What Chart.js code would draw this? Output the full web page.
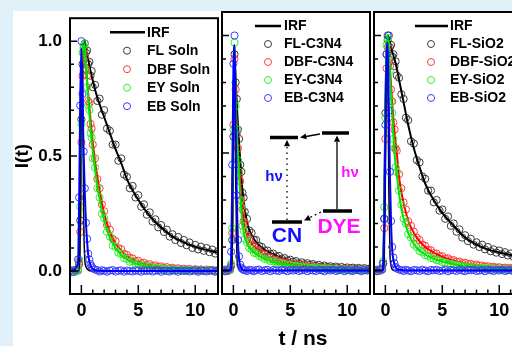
<!DOCTYPE html>
<html>
<head>
<meta charset="utf-8">
<script src="https://cdn.jsdelivr.net/npm/chart.js@4.4.1/dist/chart.umd.min.js"></script>
<style>
  html, body { margin: 0; padding: 0; width: 512px; height: 346px; overflow: hidden; background: #e1f1f9; }
  #sheet { position: absolute; left: 13px; top: 11px; width: 499px; height: 335px; background: #fff; }
  canvas { position: absolute; top: 0; }
</style>
</head>
<body>
<div id="sheet"></div>
<canvas id="c1" width="210" height="346" style="left:13px"></canvas>
<canvas id="c2" width="158" height="346" style="left:217px"></canvas>
<canvas id="c3" width="158" height="346" style="left:369px"></canvas>
<script>
// time axis (ns) of the measured points and of the fitted curves
const tData = [-1, -0.75, -0.5, -0.3, -0.2, -0.1, 0, 0.1, 0.2, 0.3, 0.4, 0.5, 0.6, 0.7, 0.8, 0.9, 1.0,
  1.2, 1.4, 1.6, 1.8, 2.0,
  2.25, 2.5, 2.75, 3.0, 3.25, 3.5, 3.75, 4.0,
  4.25, 4.5, 4.75, 5.0, 5.25, 5.5, 5.75, 6.0,
  6.25, 6.5, 6.75, 7.0, 7.25, 7.5, 7.75, 8.0,
  8.25, 8.5, 8.75, 9.0, 9.25, 9.5, 9.75, 10.0,
  10.25, 10.5, 10.75, 11.0, 11.25, 11.5, 11.75, 12.0];
const tFit = [-1, -0.3, -0.2, -0.1, 0, 0.1, 0.2, 0.3, 0.4, 0.5, 0.6, 0.8, 1.0, 1.25, 1.5, 2, 2.5, 3, 3.5, 4, 5, 6, 7, 8, 9, 10, 11, 12];

const xTicks = [0, 5, 10];
const yTicks = [0, 0.5, 1.0];

const solnLabels = ['IRF', 'FL Soln', 'DBF Soln', 'EY Soln', 'EB Soln'];
const c3n4Labels = ['IRF', 'FL-C3N4', 'DBF-C3N4', 'EY-C3N4', 'EB-C3N4'];
const sio2Labels = ['IRF', 'FL-SiO2', 'DBF-SiO2', 'EY-SiO2', 'EB-SiO2'];

// ---- solution ----
const flSoln = [0.004, -0.003, 0.005, 0.002, 0.03, 0.22, 0.66, 0.9, 0.97, 0.99, 0.95, 0.96, 0.9, 0.91, 0.85, 0.87, 0.8,
  0.81, 0.74, 0.75, 0.68, 0.7,
  0.62, 0.61, 0.55, 0.55, 0.48, 0.49, 0.42, 0.41,
  0.36, 0.37, 0.32, 0.33, 0.28, 0.29, 0.245, 0.255,
  0.215, 0.225, 0.19, 0.2, 0.17, 0.18, 0.15, 0.16,
  0.135, 0.148, 0.122, 0.135, 0.112, 0.124, 0.1, 0.114,
  0.094, 0.106, 0.088, 0.1, 0.082, 0.093, 0.076, 0.086];
const dbfSoln = [0.003, -0.004, 0.002, 0.006, 0.04, 0.17, 0.56, 0.85, 0.95, 0.93, 0.88, 0.85, 0.74, 0.73, 0.64, 0.62, 0.55,
  0.49, 0.4, 0.36, 0.29, 0.26,
  0.2, 0.18, 0.14, 0.13, 0.1, 0.095, 0.075, 0.07,
  0.058, 0.055, 0.042, 0.045, 0.034, 0.036, 0.027, 0.03,
  0.022, 0.025, 0.018, 0.02, 0.014, 0.017, 0.011, 0.014,
  0.009, 0.012, 0.007, 0.01, 0.006, 0.009, 0.004, 0.008,
  0.004, 0.007, 0.003, 0.006, 0.002, 0.005, 0.002, 0.004];
const eySoln = [0.002, 0.005, -0.003, 0.004, 0.05, 0.28, 0.64, 0.95, 0.98, 0.99, 0.87, 0.8, 0.72, 0.7, 0.6, 0.58, 0.49,
  0.45, 0.36, 0.32, 0.25, 0.23,
  0.17, 0.15, 0.11, 0.105, 0.08, 0.074, 0.056, 0.053,
  0.04, 0.042, 0.03, 0.031, 0.022, 0.025, 0.017, 0.019,
  0.012, 0.015, 0.009, 0.012, 0.007, 0.01, 0.005, 0.008,
  0.004, 0.007, 0.003, 0.006, 0.002, 0.005, 0.002, 0.004,
  0.001, 0.004, 0.001, 0.003, 0.001, 0.003, 0.0, 0.002];
const ebSoln = [0.002, -0.004, 0.005, 0.05, 0.32, 0.72, 1.0, 0.77, 0.52, 0.36, 0.21, 0.14, 0.075, 0.05, 0.03, 0.02, 0.012,
  0.006, 0.004, -0.002, 0.003, 0.001,
  -0.003, 0.002, 0.004, -0.002, 0.001, 0.003, -0.003, 0.002,
  0.0, -0.002, 0.003, 0.001, -0.003, 0.002, 0.0, 0.003,
  -0.002, 0.001, 0.003, -0.003, 0.002, 0.0, -0.002, 0.003,
  0.001, -0.003, 0.002, 0.0, 0.003, -0.002, 0.001, 0.003,
  -0.003, 0.002, 0.0, -0.002, 0.003, 0.001, -0.003, 0.002];
const irfSoln = [0, 0, 0, 0.2, 0.85, 0.9, 0.25, 0.05, 0.02, 0.01, 0.005, 0, 0, 0, 0, 0, 0, 0, 0, 0, 0, 0, 0, 0, 0, 0, 0, 0];
const flSolnFit = [0, 0, 0.02, 0.25, 0.7, 0.93, 0.99, 1.0, 0.97, 0.94, 0.92, 0.87, 0.83, 0.78, 0.74, 0.67, 0.6, 0.53, 0.47, 0.4, 0.31, 0.24, 0.19, 0.15, 0.125, 0.105, 0.092, 0.08];
const dbfSolnFit = [0, 0, 0.02, 0.2, 0.6, 0.88, 0.97, 0.96, 0.9, 0.83, 0.77, 0.66, 0.56, 0.46, 0.38, 0.25, 0.17, 0.12, 0.09, 0.066, 0.04, 0.026, 0.017, 0.012, 0.008, 0.006, 0.004, 0.003];
const eySolnFit = [0, 0, 0.03, 0.25, 0.68, 0.93, 1.0, 0.97, 0.9, 0.82, 0.75, 0.62, 0.52, 0.42, 0.34, 0.22, 0.145, 0.1, 0.07, 0.05, 0.028, 0.017, 0.011, 0.007, 0.005, 0.004, 0.003, 0.002];
const ebSolnFit = [0, 0.03, 0.3, 0.75, 0.97, 0.76, 0.51, 0.34, 0.21, 0.13, 0.07, 0.025, 0.01, 0.004, 0.002, 0, 0, 0, 0, 0, 0, 0, 0, 0, 0, 0, 0, 0];

// ---- on C3N4 ----
const flC3n4 = [0.003, -0.003, 0.004, 0.002, 0.02, 0.13, 0.57, 0.92, 0.8, 0.73, 0.6, 0.56, 0.45, 0.42, 0.33, 0.31, 0.25,
  0.22, 0.17, 0.16, 0.13, 0.13,
  0.105, 0.1, 0.085, 0.085, 0.07, 0.072, 0.06, 0.062,
  0.05, 0.053, 0.043, 0.046, 0.037, 0.04, 0.031, 0.035,
  0.027, 0.031, 0.024, 0.027, 0.02, 0.024, 0.017, 0.021,
  0.015, 0.018, 0.013, 0.017, 0.011, 0.015, 0.01, 0.013,
  0.009, 0.012, 0.008, 0.011, 0.007, 0.01, 0.006, 0.009];
const dbfC3n4 = [0.002, 0.004, -0.003, 0.003, 0.02, 0.16, 0.62, 0.9, 0.77, 0.58, 0.52, 0.41, 0.38, 0.3, 0.26, 0.21, 0.2,
  0.15, 0.135, 0.11, 0.105, 0.088,
  0.085, 0.07, 0.068, 0.057, 0.056, 0.047, 0.046, 0.039,
  0.038, 0.033, 0.032, 0.028, 0.027, 0.023, 0.023, 0.019,
  0.02, 0.016, 0.017, 0.013, 0.014, 0.011, 0.012, 0.009,
  0.01, 0.007, 0.009, 0.006, 0.008, 0.005, 0.007, 0.004,
  0.006, 0.004, 0.005, 0.003, 0.005, 0.002, 0.004, 0.002];
const eyC3n4 = [0.003, -0.002, 0.004, 0.002, 0.03, 0.18, 0.6, 0.97, 0.7, 0.6, 0.47, 0.42, 0.3, 0.27, 0.19, 0.17, 0.135,
  0.12, 0.095, 0.09, 0.075, 0.073,
  0.062, 0.058, 0.049, 0.047, 0.04, 0.039, 0.033, 0.032,
  0.028, 0.027, 0.023, 0.024, 0.019, 0.02, 0.016, 0.017,
  0.014, 0.014, 0.011, 0.012, 0.009, 0.01, 0.008, 0.009,
  0.006, 0.007, 0.005, 0.006, 0.004, 0.005, 0.003, 0.004,
  0.003, 0.004, 0.002, 0.003, 0.001, 0.003, 0.001, 0.002];
const ebC3n4 = [0.003, -0.003, 0.002, 0.01, 0.08, 0.45, 0.88, 1.0, 0.58, 0.32, 0.13, 0.06, 0.025, 0.012, 0.006, 0.003, 0.001,
  -0.002, 0.003, 0.001, -0.003, 0.002,
  0.004, -0.002, 0.001, 0.003, -0.003, 0.002, 0.0, -0.002,
  0.003, 0.001, -0.003, 0.002, 0.0, 0.003, -0.002, 0.001,
  0.003, -0.003, 0.002, 0.0, -0.002, 0.003, 0.001, -0.003,
  0.002, 0.0, 0.003, -0.002, 0.001, 0.003, -0.003, 0.002,
  0.0, -0.002, 0.003, 0.001, -0.003, 0.002, 0.0, 0.003];
const irfC3n4 = [0, 0, 0, 0.1, 0.7, 0.95, 0.4, 0.08, 0.02, 0.005, 0, 0, 0, 0, 0, 0, 0, 0, 0, 0, 0, 0, 0, 0, 0, 0, 0, 0];
const flC3n4Fit = [0, 0, 0.01, 0.15, 0.6, 0.9, 0.82, 0.71, 0.62, 0.54, 0.47, 0.34, 0.26, 0.195, 0.16, 0.12, 0.097, 0.08, 0.068, 0.058, 0.042, 0.032, 0.025, 0.019, 0.015, 0.012, 0.01, 0.008];
const dbfC3n4Fit = [0, 0, 0.01, 0.15, 0.6, 0.93, 0.75, 0.6, 0.5, 0.43, 0.37, 0.25, 0.19, 0.143, 0.12, 0.092, 0.073, 0.06, 0.05, 0.041, 0.03, 0.021, 0.015, 0.011, 0.008, 0.006, 0.005, 0.004];
const eyC3n4Fit = [0, 0, 0.01, 0.15, 0.62, 0.96, 0.72, 0.58, 0.49, 0.4, 0.32, 0.2, 0.142, 0.11, 0.09, 0.07, 0.056, 0.045, 0.037, 0.031, 0.023, 0.017, 0.013, 0.01, 0.007, 0.005, 0.004, 0.003];
const ebC3n4Fit = [0, 0, 0.05, 0.4, 0.85, 0.96, 0.6, 0.3, 0.12, 0.05, 0.02, 0.005, 0, 0, 0, 0, 0, 0, 0, 0, 0, 0, 0, 0, 0, 0, 0, 0];

// ---- on SiO2 ----
const flSio2 = [0.003, -0.002, 0.004, 0.003, 0.03, 0.22, 0.67, 0.92, 0.98, 1.0, 0.95, 0.96, 0.91, 0.92, 0.87, 0.89, 0.83,
  0.82, 0.75, 0.73, 0.65, 0.64,
  0.55, 0.54, 0.47, 0.46, 0.4, 0.39, 0.34, 0.34,
  0.29, 0.3, 0.255, 0.26, 0.22, 0.23, 0.19, 0.2,
  0.165, 0.175, 0.14, 0.15, 0.125, 0.135, 0.11, 0.12,
  0.1, 0.11, 0.09, 0.1, 0.082, 0.09, 0.076, 0.085,
  0.07, 0.078, 0.064, 0.072, 0.058, 0.066, 0.054, 0.06];
const dbfSio2 = [0.002, 0.004, -0.002, 0.004, 0.03, 0.18, 0.56, 0.86, 0.95, 0.9, 0.87, 0.77, 0.72, 0.63, 0.6, 0.52, 0.51,
  0.41, 0.35, 0.29, 0.26, 0.21,
  0.19, 0.165, 0.14, 0.13, 0.11, 0.105, 0.088, 0.086,
  0.073, 0.072, 0.06, 0.061, 0.051, 0.052, 0.044, 0.044,
  0.037, 0.038, 0.031, 0.033, 0.027, 0.028, 0.023, 0.025,
  0.02, 0.021, 0.017, 0.018, 0.014, 0.016, 0.012, 0.014,
  0.011, 0.012, 0.009, 0.011, 0.008, 0.009, 0.007, 0.008];
const eySio2 = [0.003, -0.003, 0.002, 0.004, 0.04, 0.27, 0.65, 0.96, 0.99, 0.91, 0.85, 0.72, 0.67, 0.56, 0.52, 0.44, 0.42,
  0.34, 0.28, 0.22, 0.2, 0.155,
  0.14, 0.11, 0.1, 0.083, 0.077, 0.066, 0.062, 0.053,
  0.05, 0.044, 0.042, 0.036, 0.034, 0.03, 0.029, 0.025,
  0.024, 0.021, 0.02, 0.017, 0.017, 0.014, 0.014, 0.011,
  0.012, 0.009, 0.01, 0.008, 0.008, 0.006, 0.007, 0.005,
  0.006, 0.004, 0.005, 0.003, 0.005, 0.003, 0.004, 0.002];
const ebSio2 = [0.002, -0.003, 0.004, 0.005, 0.03, 0.22, 0.62, 0.92, 1.0, 0.68, 0.42, 0.21, 0.1, 0.055, 0.03, 0.015, 0.009,
  0.004, 0.002, -0.002, 0.003, 0.0,
  -0.003, 0.002, 0.001, -0.002, 0.003, 0.0, -0.003, 0.002,
  0.001, 0.003, -0.002, 0.0, 0.003, -0.003, 0.002, 0.001,
  -0.002, 0.003, 0.0, -0.003, 0.002, 0.001, 0.003, -0.002,
  0.0, 0.002, -0.003, 0.003, 0.001, -0.002, 0.002, 0.0,
  0.003, -0.002, 0.001, 0.002, -0.003, 0.003, 0.0, -0.002];
const irfSio2 = [0, 0, 0, 0.05, 0.4, 0.9, 0.9, 0.35, 0.08, 0.02, 0.005, 0, 0, 0, 0, 0, 0, 0, 0, 0, 0, 0, 0, 0, 0, 0, 0, 0];
const flSio2Fit = [0, 0, 0.02, 0.25, 0.7, 0.93, 1.0, 0.99, 0.97, 0.95, 0.93, 0.9, 0.86, 0.8, 0.74, 0.62, 0.52, 0.44, 0.37, 0.32, 0.245, 0.19, 0.14, 0.11, 0.09, 0.077, 0.066, 0.057];
const dbfSio2Fit = [0, 0, 0.02, 0.2, 0.6, 0.88, 0.96, 0.92, 0.86, 0.79, 0.71, 0.59, 0.5, 0.38, 0.31, 0.213, 0.16, 0.125, 0.1, 0.083, 0.058, 0.042, 0.031, 0.023, 0.017, 0.013, 0.01, 0.008];
const eySio2Fit = [0, 0, 0.03, 0.25, 0.68, 0.94, 1.0, 0.93, 0.84, 0.74, 0.66, 0.5, 0.41, 0.31, 0.24, 0.16, 0.113, 0.085, 0.068, 0.055, 0.038, 0.027, 0.019, 0.013, 0.009, 0.007, 0.005, 0.004];
const ebSio2Fit = [0, 0, 0.02, 0.2, 0.6, 0.9, 0.97, 0.7, 0.4, 0.2, 0.09, 0.025, 0.008, 0.003, 0.001, 0, 0, 0, 0, 0, 0, 0, 0, 0, 0, 0, 0, 0];

const FONT = 'Arial, "Liberation Sans", Helvetica, sans-serif';
const dotColors = ['#3a3a3a', '#ff3b3b', '#2cef2c', '#3b3bff'];
const lineColors = ['#000000', '#ff0000', '#00e600', '#0000ff'];

Chart.defaults.font.family = FONT;

function pts(xs, ys) {
  return xs.map((x, i) => ({ x: x, y: ys[i] }));
}

// box around the plot plus inward tick marks
const framePlugin = {
  id: 'frame',
  afterDatasetsDraw(chart) {
    const { ctx, chartArea: a, scales: { x, y } } = chart;
    ctx.save();
    ctx.strokeStyle = '#000';
    ctx.lineWidth = 1.5;
    ctx.beginPath();
    for (let t = 0; t <= 11; t++) {
      const px = x.getPixelForValue(t);
      ctx.moveTo(px, a.bottom);
      ctx.lineTo(px, a.bottom - (t % 5 === 0 ? 9 : 4.5));
    }
    for (let k = 0; k <= 10; k++) {
      const py = y.getPixelForValue(k / 10);
      ctx.moveTo(a.left, py);
      ctx.lineTo(a.left + (k % 5 === 0 ? 7 : 4), py);
    }
    ctx.stroke();
    ctx.lineWidth = 2;
    ctx.strokeRect(a.left, a.top, a.right - a.left, a.bottom - a.top);
    ctx.restore();
  }
};

const legendPlugin = {
  id: 'panelLegend',
  afterDraw(chart, args, o) {
    const { ctx, chartArea: a } = chart;
    ctx.save();
    ctx.font = 'bold 14px ' + FONT;
    ctx.textBaseline = 'middle';
    o.labels.forEach((lab, i) => {
      const yy = a.top + o.top + i * o.gap;
      if (i === 0) {
        ctx.strokeStyle = '#000';
        ctx.lineWidth = 2.5;
        ctx.beginPath();
        ctx.moveTo(a.left + o.lineFrom, yy);
        ctx.lineTo(a.left + o.lineTo, yy);
        ctx.stroke();
      } else {
        ctx.strokeStyle = dotColors[i - 1];
        ctx.lineWidth = 1;
        ctx.beginPath();
        ctx.arc(a.left + o.dot, yy, 3.5, 0, Math.PI * 2);
        ctx.stroke();
      }
      ctx.fillStyle = '#000';
      ctx.fillText(lab, a.left + o.text, yy + 0.5);
    });
    ctx.restore();
  }
};

function arrowHead(ctx, x, y, ang, size) {
  ctx.beginPath();
  ctx.moveTo(x, y);
  ctx.lineTo(x - size * Math.cos(ang - 0.45), y - size * Math.sin(ang - 0.45));
  ctx.lineTo(x - size * Math.cos(ang + 0.45), y - size * Math.sin(ang + 0.45));
  ctx.closePath();
  ctx.fill();
}

// energy level sketch in the middle panel
const insetPlugin = {
  id: 'inset',
  afterDraw(chart) {
    const { ctx, chartArea: a } = chart;
    const L = a.left, T = a.top;
    const seg = (x1, y1, x2, y2) => { ctx.beginPath(); ctx.moveTo(L + x1, T + y1); ctx.lineTo(L + x2, T + y2); ctx.stroke(); };
    ctx.save();
    ctx.strokeStyle = '#000';
    ctx.fillStyle = '#000';
    ctx.lineWidth = 3.5;
    seg(48, 125.5, 76, 125.5);
    seg(100, 121, 127, 121);
    seg(101, 199, 130, 199);
    seg(50, 210, 80, 210);
    ctx.lineWidth = 1.3;
    seg(115, 197, 115, 130);
    arrowHead(ctx, L + 115, T + 123.5, -Math.PI / 2, 7);
    ctx.setLineDash([1.5, 4]);
    seg(65, 208, 65, 134);
    ctx.setLineDash([]);
    arrowHead(ctx, L + 65, T + 128, -Math.PI / 2, 7);
    seg(98, 122, 84, 124.5);
    arrowHead(ctx, L + 78, T + 125.5, Math.PI - 0.18, 7);
    ctx.setLineDash([2, 3]);
    seg(99, 200, 88, 205.5);
    ctx.setLineDash([]);
    arrowHead(ctx, L + 82, T + 208.5, Math.PI - 0.45, 7);
    ctx.textAlign = 'center';
    ctx.textBaseline = 'middle';
    ctx.font = 'bold 15px ' + FONT;
    ctx.fillStyle = '#1010ff';
    ctx.fillText('h\u03bd', L + 52, T + 165);
    ctx.fillStyle = '#ff10ff';
    ctx.fillText('h\u03bd', L + 128, T + 161);
    ctx.font = 'bold 21px ' + FONT;
    ctx.fillStyle = '#1010ff';
    ctx.fillText('CN', L + 65, T + 224);
    ctx.fillStyle = '#ff10ff';
    ctx.fillText('DYE', L + 117, T + 215);
    ctx.restore();
  }
};

const xTitlePlugin = {
  id: 'xTitle',
  afterDraw(chart, args, o) {
    const { ctx, chartArea: a } = chart;
    ctx.save();
    ctx.font = 'bold 21px ' + FONT;
    ctx.fillStyle = '#000';
    ctx.textAlign = 'center';
    ctx.textBaseline = 'alphabetic';
    ctx.fillText(o.text, (a.left + a.right) / 2 + 7, chart.height - 1.5);
    ctx.restore();
  }
};

function makePanel(id, p) {
  const datasets = [];
  p.series.forEach((vals, i) => {
    datasets.push({
      label: p.labels[i + 1],
      data: pts(tData, vals),
      showLine: false,
      pointStyle: 'circle',
      pointRadius: 3.6,
      pointBorderWidth: 1,
      pointBorderColor: dotColors[i],
      pointBackgroundColor: 'rgba(0,0,0,0)',
      order: 20 - i * 4
    });
    datasets.push({
      label: p.labels[i + 1] + ' fit',
      data: pts(tFit, p.fits[i]),
      showLine: true,
      borderColor: lineColors[i],
      borderWidth: 2,
      pointRadius: 0,
      cubicInterpolationMode: 'monotone',
      order: 19 - i * 4
    });
  });
  datasets.push({
    label: p.labels[0],
    data: pts(tFit, p.irf),
    showLine: true,
    borderColor: '#000',
    borderWidth: 1.5,
    pointRadius: 0,
    cubicInterpolationMode: 'monotone',
    order: 9
  });

  return new Chart(document.getElementById(id), {
    type: 'scatter',
    data: { datasets: datasets },
    options: {
      responsive: false,
      animation: false,
      devicePixelRatio: 1,
      layout: { padding: p.padding },
      plugins: {
        legend: { display: false },
        tooltip: { enabled: false },
        panelLegend: p.legend,
        inset: p.inset,
        xTitle: p.xTitle
      },
      scales: {
        x: {
          type: 'linear',
          min: -1,
          max: 12,
          grid: { display: false, drawTicks: false },
          border: { display: false },
          afterBuildTicks: s => { s.ticks = xTicks.map(v => ({ value: v })); },
          afterFit: s => { s.height = 52; },
          ticks: {
            padding: 6,
            color: '#000',
            maxRotation: 0,
            autoSkip: false,
            font: { size: 18, weight: 'bold' },
            callback: v => String(v)
          }
        },
        y: {
          type: 'linear',
          min: -0.1,
          max: 1.1,
          display: p.showY,
          grid: { display: false, drawTicks: false },
          border: { display: false },
          afterBuildTicks: s => { s.ticks = yTicks.map(v => ({ value: v })); },
          afterFit: s => { s.width = p.showY ? 57 : 0; },
          ticks: {
            padding: 8,
            color: '#000',
            font: { size: 17, weight: 'bold' },
            callback: v => v.toFixed(1)
          },
          title: {
            display: true,
            text: 'I(t)',
            color: '#000',
            font: { size: 19, weight: 'bold', lineHeight: 1 },
            padding: { top: 0, bottom: 0 }
          }
        }
      }
    },
    plugins: [framePlugin, legendPlugin, insetPlugin, xTitlePlugin]
  });
}

makePanel('c1', {
  labels: solnLabels,
  series: [flSoln, dbfSoln, eySoln, ebSoln],
  fits: [flSolnFit, dbfSolnFit, eySolnFit, ebSolnFit],
  irf: irfSoln,
  showY: true,
  padding: { left: 0, right: 3, top: 12, bottom: 0 },
  legend: { labels: solnLabels, top: 14, gap: 18.5, lineFrom: 40, lineTo: 75, dot: 57, text: 77 },
  inset: false,
  xTitle: false
});

makePanel('c2', {
  labels: c3n4Labels,
  series: [flC3n4, dbfC3n4, eyC3n4, ebC3n4],
  fits: [flC3n4Fit, dbfC3n4Fit, eyC3n4Fit, ebC3n4Fit],
  irf: irfC3n4,
  showY: false,
  padding: { left: 3, right: 3, top: 12, bottom: 0 },
  legend: { labels: c3n4Labels, top: 14, gap: 18, lineFrom: 33, lineTo: 59, dot: 46, text: 62 },
  inset: {},
  xTitle: { text: 't / ns' }
});

makePanel('c3', {
  labels: sio2Labels,
  series: [flSio2, dbfSio2, eySio2, ebSio2],
  fits: [flSio2Fit, dbfSio2Fit, eySio2Fit, ebSio2Fit],
  irf: irfSio2,
  showY: false,
  padding: { left: 3, right: 3, top: 12, bottom: 0 },
  legend: { labels: sio2Labels, top: 14, gap: 18, lineFrom: 41, lineTo: 74, dot: 57, text: 76 },
  inset: false,
  xTitle: false
});
</script>
</body>
</html>
